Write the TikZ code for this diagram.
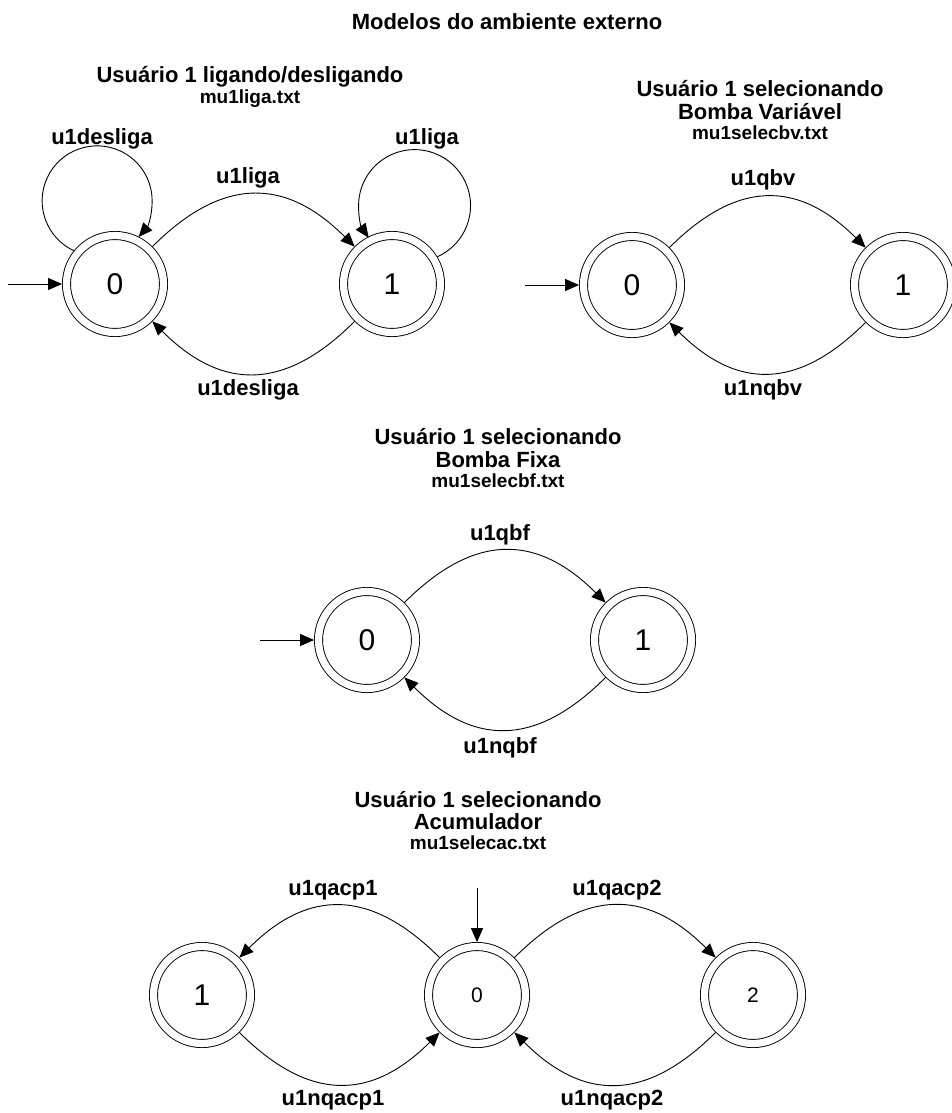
\documentclass[tikz,border=0pt]{standalone}
\usepackage{fontspec}
\setmainfont{Liberation Sans}
\usetikzlibrary{arrows.meta}

\begin{document}
\begin{tikzpicture}[x=1pt, y=1pt, line width=0.9pt, >={Triangle[length=14pt, width=12pt]},
        stnode/.style={circle, draw, double, double distance=7.2pt, minimum size=97pt, inner sep=0pt, outer sep=4.4pt, font=\fontsize{30}{30}\selectfont},
        smallst/.style={stnode, font=\fontsize{21}{21}\selectfont},
        lbl/.style={font=\bfseries\fontsize{22}{26}\selectfont, inner sep=0pt},
        fname/.style={font=\bfseries\fontsize{19}{22}\selectfont, inner sep=0pt},
        trans/.style={->, looseness=1.25}]
        \useasboundingbox (0,0) rectangle (951,-1113);
        \node[lbl] (title) at (507,-22) {Modelos do ambiente externo};

        % Usuario 1 ligando/desligando
        \node[lbl] (hA) at (250,-77) {Usuário 1 ligando/desligando};
        \node[fname] (fA) at (250,-99) {mu1liga.txt};
        \node[stnode] (a0) at (115,-284) {0};
        \node[stnode] (a1) at (392,-284) {1};
        \coordinate (ain) at (8,-284);
        \draw[->] (ain) -- (a0);
        \draw[trans] (a0) to[out=45, in=135] (a1);
        \draw[trans] (a1) to[out=-135, in=-45] (a0);
        \draw[->] (a0.141) arc[start angle=245, end angle=-41, radius=55];
        \draw[->] (a1.31) arc[start angle=-66, end angle=215, radius=56];
        \node[lbl] (a01) at (248,-178) {u1liga};
        \node[lbl] (a10) at (248,-390) {u1desliga};
        \node[lbl] (a00) at (102,-139) {u1desliga};
        \node[lbl] (a11) at (427,-139) {u1liga};

        % Usuario 1 selecionando Bomba Variavel
        \node[lbl] (hB) at (760,-89) {Usuário 1 selecionando};
        \node[lbl] (hB2) at (760,-112) {Bomba Variável};
        \node[fname] (fB) at (760,-133) {mu1selecbv.txt};
        \node[stnode] (b0) at (632,-285) {0};
        \node[stnode] (b1) at (903,-285) {1};
        \coordinate (bin) at (525,-285);
        \draw[->] (bin) -- (b0);
        \draw[trans] (b0) to[out=45, in=135] (b1);
        \draw[trans] (b1) to[out=-135, in=-45] (b0);
        \node[lbl] (b01) at (763,-180) {u1qbv};
        \node[lbl] (b10) at (763,-390) {u1nqbv};

        % Usuario 1 selecionando Bomba Fixa
        \node[lbl] (hC) at (498,-437) {Usuário 1 selecionando};
        \node[lbl] (hC2) at (498,-460) {Bomba Fixa};
        \node[fname] (fC) at (498,-481) {mu1selecbf.txt};
        \node[stnode] (c0) at (367,-640) {0};
        \node[stnode] (c1) at (643,-640) {1};
        \coordinate (cin) at (260,-640);
        \draw[->] (cin) -- (c0);
        \draw[trans] (c0) to[out=45, in=135] (c1);
        \draw[trans] (c1) to[out=-135, in=-45] (c0);
        \node[lbl] (c01) at (500,-535) {u1qbf};
        \node[lbl] (c10) at (500,-748) {u1nqbf};

        % Usuario 1 selecionando Acumulador
        \node[lbl] (hD) at (478,-800) {Usuário 1 selecionando};
        \node[lbl] (hD2) at (478,-822) {Acumulador};
        \node[fname] (fD) at (478,-843) {mu1selecac.txt};
        \node[stnode] (d1) at (202,-995) {1};
        \node[smallst] (d0) at (477,-995) {0};
        \node[smallst] (d2) at (753,-995) {2};
        \coordinate (din) at (477,-888);
        \draw[->] (din) -- (d0);
        \draw[trans] (d0) to[out=135, in=45] (d1);
        \draw[trans] (d1) to[out=-45, in=-135] (d0);
        \draw[trans] (d0) to[out=45, in=135] (d2);
        \draw[trans] (d2) to[out=-135, in=-45] (d0);
        \node[lbl] (d01) at (333,-890) {u1qacp1};
        \node[lbl] (d10) at (333,-1100) {u1nqacp1};
        \node[lbl] (d02) at (617,-890) {u1qacp2};
        \node[lbl] (d20) at (612,-1100) {u1nqacp2};
    \end{tikzpicture}
\end{document}
